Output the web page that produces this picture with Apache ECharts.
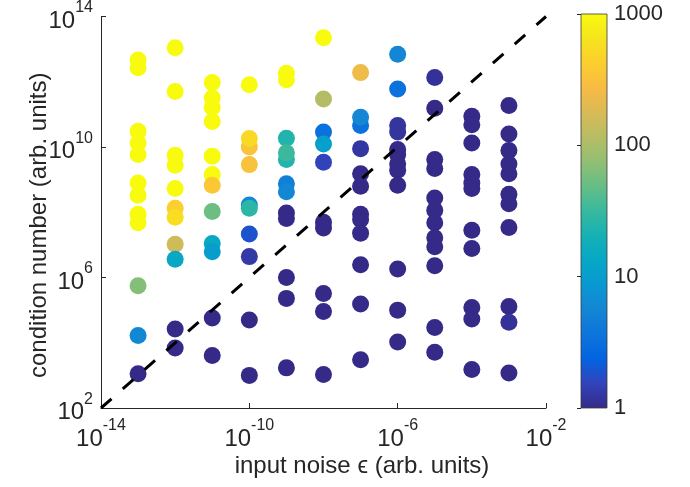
<!DOCTYPE html>
<html><head><meta charset="utf-8">
<script src="https://cdn.jsdelivr.net/npm/echarts@6.0.0/dist/echarts.min.js"></script>
<style>html,body{margin:0;padding:0;background:#fff}#c{width:690px;height:487px}</style>
</head><body><div id="c"></div>
<script>
// ---- data ----
const noiseLevels = [1e-13, 1e-12, 1e-11, 1e-10, 1e-9, 1e-8, 1e-7, 1e-6, 1e-5, 1e-4, 1e-3];
// log10(condition number) for each point, per noise column
const condExponents = [
  [12.67, 12.43, 10.48, 10.12, 9.77, 8.90, 8.52, 7.94, 7.68, 5.75, 4.22, 3.05],
  [13.04, 11.70, 9.75, 9.44, 8.73, 8.12, 7.85, 7.02, 6.56, 4.42, 3.84],
  [11.98, 11.50, 11.21, 10.78, 9.72, 9.16, 8.83, 8.02, 7.04, 6.79, 4.76, 3.61],
  [11.91, 10.00, 10.26, 9.46, 8.22, 8.12, 7.33, 6.64, 4.70, 3.00],
  [12.26, 12.06, 10.27, 9.62, 9.82, 8.87, 8.63, 7.98, 7.81, 6.00, 5.36, 3.23],
  [13.35, 11.47, 10.46, 10.09, 9.53, 7.69, 7.52, 5.51, 4.96, 3.03],
  [12.28, 10.66, 10.91, 9.95, 9.18, 8.80, 7.94, 7.78, 7.36, 6.39, 5.19, 3.48],
  [12.84, 11.78, 10.66, 10.46, 9.92, 9.77, 9.49, 9.29, 8.83, 6.26, 5.00, 4.02],
  [12.13, 11.19, 9.62, 9.34, 8.44, 8.06, 7.68, 7.22, 6.94, 6.36, 4.47, 3.71],
  [10.94, 10.68, 10.12, 9.16, 8.90, 8.73, 7.45, 6.89, 5.08, 4.73, 3.18],
  [11.27, 10.40, 9.89, 9.48, 9.18, 8.55, 8.26, 7.53, 5.11, 4.63, 3.07]
];
// colour value (1 .. 1000, log colour scale) for each point
const colorValues = [
  [1000, 1000, 1000, 1000, 1000, 1000, 1000, 1000, 1000, 65, 6, 1],
  [1000, 1000, 1000, 1000, 1000, 420, 580, 155, 14, 1, 1],
  [1000, 1000, 1000, 1000, 1000, 1000, 370, 52, 14, 10, 1, 1],
  [1000, 335, 520, 320, 5.8, 27, 1.9, 1.3, 1, 1],
  [1000, 1000, 24, 24, 33, 4.7, 6, 1, 1, 1, 1, 1],
  [1000, 112, 3.3, 11, 1.55, 1, 1, 1, 1, 1],
  [240, 3.3, 5.7, 1.25, 1, 1, 1, 1, 1, 1, 1, 1],
  [5.7, 3.3, 1.2, 1.2, 1, 1, 1, 1, 1, 1, 1, 1],
  [1.15, 1, 1, 1, 1, 1, 1, 1, 1, 1, 1, 1],
  [1, 1, 1, 1, 1, 1, 1, 1, 1, 1, 1],
  [1, 1, 1, 1, 1, 1, 1, 1, 1, 1.15, 1]
];
const xTicks = [1e-14, 1e-10, 1e-6, 1e-2];
const yTicks = [1e2, 1e6, 1e10, 1e14];
const colorTicks = [1, 10, 100, 1000];
const diagonalLine = [[1e-14, 1e2], [1e-2, 1e14]];

// ---- style ----
const parula = ['#352a87','#3243ba','#0363e1','#0d75dc','#1485d4','#0998d1','#06a7c6','#15b1b4',
  '#38b99e','#65be86','#92bf73','#b7bd64','#d9ba56','#f8bb44','#fcce2e','#f5e41d','#f9fb0e'];
const ink = '#262626';
const FONT = 'Liberation Sans, Arial, Helvetica, sans-serif';

const points = [];
noiseLevels.forEach((x, i) => {
  condExponents[i].forEach((e, j) => {
    points.push([x, Math.pow(10, e), Math.log10(colorValues[i][j])]);
  });
});

function pow10Label(v) {
  const e = Math.round(Math.log10(v));
  return '{b|10}{s|' + e + '}';
}
const powRich = {
  b: {fontSize: 24, fontFamily: FONT, color: ink, padding: [9, 0, 0, 0], verticalAlign: 'bottom'},
  s: {fontSize: 16, fontFamily: FONT, color: ink, verticalAlign: 'top'}
};

const gradStops = parula.map((c, k) => ({offset: 1 - k / (parula.length - 1), color: c}));

const chart = echarts.init(document.getElementById('c'), null, {renderer: 'canvas'});
chart.setOption({
  animation: false,
  backgroundColor: '#fff',
  grid: [
    {left: 101, top: 15, width: 445, height: 393, containLabel: false},
    {left: 581, top: 14, width: 26, height: 394, show: true, borderColor: '#3a3a3a', borderWidth: 0.8,
     backgroundColor: new echarts.graphic.LinearGradient(0, 0, 0, 1, gradStops)}
  ],
  xAxis: [
    {type: 'log', logBase: 10, min: 1e-14, max: 1e-2, gridIndex: 0,
     name: 'input noise \u03f5 (arb. units)', nameLocation: 'middle', nameGap: 46, nameMoveOverlap: false,
     nameTextStyle: {fontSize: 24, fontFamily: FONT, color: ink, padding: [0, 0, 0, 77]},
     axisLine: {show: true, onZero: false, lineStyle: {color: ink, width: 1}},
     axisTick: {show: true, inside: true, length: 5, customValues: xTicks, lineStyle: {color: ink}},
     axisLabel: {show: true, customValues: xTicks, margin: 10, formatter: pow10Label, rich: powRich},
     splitLine: {show: false}},
    {type: 'value', gridIndex: 1, show: false, min: 0, max: 1}
  ],
  yAxis: [
    {type: 'log', logBase: 10, min: 1e2, max: 1e14, gridIndex: 0,
     name: 'condition number (arb. units)', nameLocation: 'middle', nameGap: 50, nameRotate: 90,
     nameMoveOverlap: false,
     nameTextStyle: {fontSize: 24, fontFamily: FONT, color: ink, padding: [0, 26, 0, 0]},
     axisLine: {show: true, onZero: false, lineStyle: {color: ink, width: 1}},
     axisTick: {show: true, inside: true, length: 5, customValues: yTicks, lineStyle: {color: ink}},
     axisLabel: {show: true, customValues: yTicks, margin: 8, formatter: pow10Label, rich: powRich},
     splitLine: {show: false}},
    {type: 'log', logBase: 10, min: 1, max: 1000, gridIndex: 1, position: 'right',
     axisLine: {show: false},
     axisTick: {show: true, inside: true, length: 4, customValues: colorTicks, lineStyle: {color: ink}},
     axisLabel: {show: true, customValues: colorTicks, margin: 7, fontSize: 22, fontFamily: FONT, color: ink,
       formatter: v => String(Math.round(v))},
     splitLine: {show: false}}
  ],
  visualMap: {
    type: 'continuous', show: false, dimension: 2, seriesIndex: 0, min: 0, max: 3,
    inRange: {color: parula}
  },
  series: [
    {type: 'scatter', xAxisIndex: 0, yAxisIndex: 0, data: points, symbolSize: 17,
     itemStyle: {opacity: 1}, emphasis: {disabled: true}, z: 2},
    {type: 'line', xAxisIndex: 0, yAxisIndex: 0, data: diagonalLine, symbol: 'none',
     lineStyle: {color: '#000', width: 3, type: [14, 15]}, emphasis: {disabled: true}, z: 3}
  ]
});
</script>
</body></html>
